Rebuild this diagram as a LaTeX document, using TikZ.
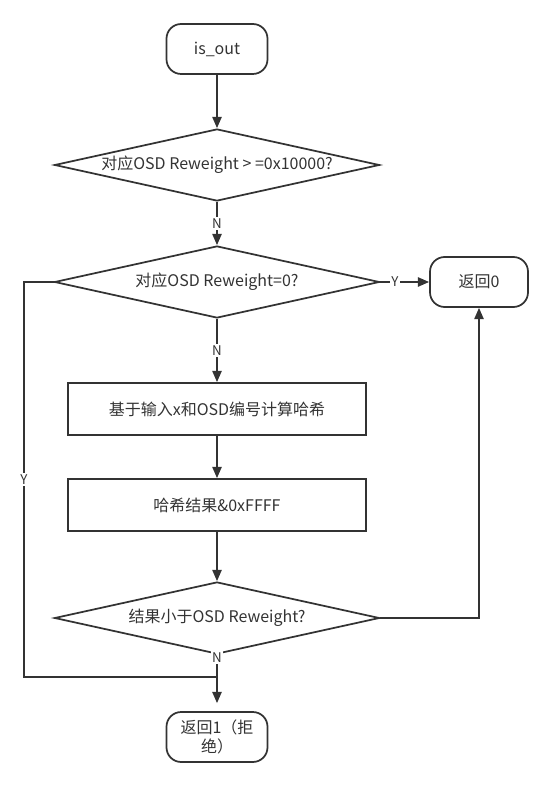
\documentclass[tikz,border=0pt]{standalone}
\usepackage{fontspec}
\setmainfont{Noto Sans CJK SC}
\usetikzlibrary{shapes.geometric}
\usetikzlibrary{arrows.meta}
\definecolor{ink}{HTML}{333333}
\tikzstyle{terminal}=[draw=ink, line width=1.3pt, rounded corners=11pt, minimum width=75.75pt, minimum height=37.5pt, align=center, text=ink, font=\fontsize{12pt}{14pt}\selectfont]
\tikzstyle{process}=[draw=ink, line width=1.3pt, minimum width=223.5pt, minimum height=39pt, text=ink, font=\fontsize{12pt}{14pt}\selectfont]
\tikzstyle{decision}=[draw=ink, line width=1.3pt, diamond, aspect=5, inner sep=0pt, minimum width=243.75pt, minimum height=54pt, text=ink, font=\fontsize{12pt}{14pt}\selectfont]
\tikzstyle{branch}=[fill=white, inner sep=1pt, text=ink, font=\fontsize{10pt}{11pt}\selectfont]
\tikzstyle{wire}=[draw=ink, line width=1.3pt]
\tikzstyle{flow}=[wire, -{Triangle[length=8.5pt, width=7pt]}]

\begin{document}
\begin{tikzpicture}[x=0.75pt, y=-0.75pt]
  \useasboundingbox (0,0) rectangle (554,787);
  \node[terminal] (start) at (217,49) {is\_out};
  \node[decision] (big) at (217,165) {对应OSD Reweight > =0x10000?};
  \node[decision] (zero) at (217,282) {对应OSD Reweight=0?};
  \node[terminal, minimum width=73.5pt] (accept) at (479,282) {返回0};
  \node[process] (hash) at (217,409) {基于输入x和OSD编号计算哈希};
  \node[process] (mask) at (217,505) {哈希结果\&0xFFFF};
  \node[decision] (less) at (217,618) {结果小于OSD Reweight?};
  \node[terminal] (reject) at (217,737) {返回1（拒\\绝）};
  \coordinate (corner) at (24,677);
  \coordinate (merge) at (217,677);
  \draw[flow] (start) -- (big);
  \draw[flow] (big) -- node[branch] {N} (zero);
  \draw[flow] (zero) -- node[branch, pos=0.3] {Y} (accept);
  \draw[flow] (zero) -- node[branch] {N} (hash);
  \draw[flow] (hash) -- (mask);
  \draw[flow] (mask) -- (less);
  \draw[flow] (less) -| (accept);
  \draw[wire] (zero.west) -| node[branch, pos=0.75] {Y} (corner) -- (merge);
  \draw[flow, shorten >=6pt] (less) -- node[branch, pos=0.05] {N} (reject);
\end{tikzpicture}
\end{document}
